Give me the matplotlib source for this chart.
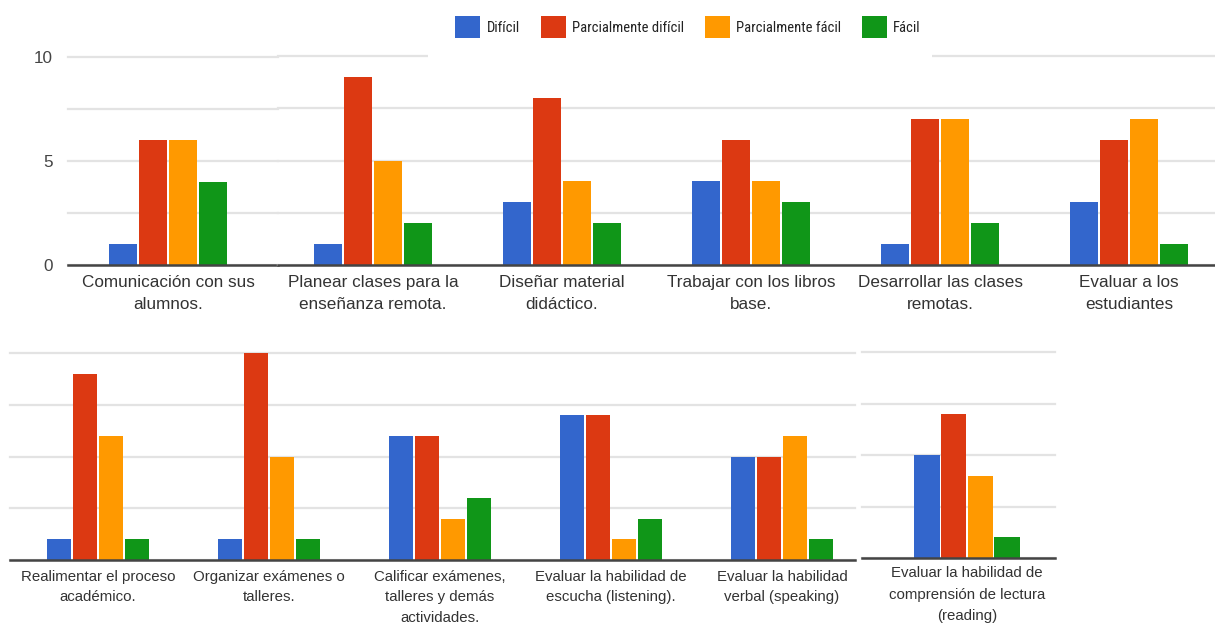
import matplotlib
matplotlib.use('Agg')
import matplotlib.pyplot as plt
from matplotlib.patches import Patch, Rectangle
from matplotlib.font_manager import FontProperties, fontManager
from matplotlib.textpath import TextPath
import numpy as np

W, H = 1215, 626

series = ['Difícil', 'Parcialmente difícil', 'Parcialmente fácil', 'Fácil']
colors = ['#3366cc', '#dc3912', '#ff9900', '#109618']

# first row
top_a_labels = ['Comunicación con sus\nalumnos.']
top_a_values = [[1], [6], [6], [4]]

top_b_labels = ['Planear clases para la\nenseñanza remota.',
                'Diseñar material\ndidáctico.',
                'Trabajar con los libros\nbase.',
                'Desarrollar las clases\nremotas.',
                'Evaluar a los\nestudiantes']
top_b_values = [[1, 3, 4, 1, 3],
                [9, 8, 6, 7, 6],
                [5, 4, 4, 7, 7],
                [2, 2, 3, 2, 1]]

# second row
bot_a_labels = ['Realimentar el proceso\nacadémico.',
                'Organizar exámenes o\ntalleres.',
                'Calificar exámenes,\ntalleres y demás\nactividades.',
                'Evaluar la habilidad de\nescucha (listening).',
                'Evaluar la habilidad\nverbal (speaking)']
bot_a_values = [[1, 1, 6, 7, 5],
                [9, 10, 6, 7, 5],
                [6, 5, 2, 1, 6],
                [1, 1, 3, 2, 1]]

bot_b_labels = ['Evaluar la habilidad de\ncomprensión de lectura\n(reading)']
bot_b_values = [[5], [7], [4], [1]]

yticks = [0, 2.5, 5, 7.5, 10]

names = {f.name for f in fontManager.ttflist}
base_font = 'Liberation Sans' if 'Liberation Sans' in names else 'DejaVu Sans'
plt.rcParams['font.family'] = [base_font, 'DejaVu Sans']


def pick_narrow():
    # a condensed face for the legend, if there is one
    for nm in ['Liberation Sans Narrow', 'Roboto Condensed', 'Open Sans Condensed']:
        if nm in names:
            return FontProperties(family=nm)
    rank = {'condensed': 0, 'semi-condensed': 1, 'extra-condensed': 2}
    cands = []
    for f in fontManager.ttflist:
        st = f.stretch if isinstance(f.stretch, str) else ''
        narrow = st in rank or 'Condensed' in f.name or 'Narrow' in f.name
        if narrow and f.style == 'normal' and f.weight in (400, 'normal', 'regular'):
            cands.append((rank.get(st, 0), f.fname))
    if cands:
        cands.sort()
        return FontProperties(fname=cands[0][1])
    return FontProperties(family=base_font)


legend_fp = pick_narrow()
probe = TextPath((0, 0), 'Parcialmente difícil', size=10, prop=legend_fp)
legend_size = 10 * 110 / (probe.get_extents().width * 100 / 72)
legend_size = min(legend_size, 15)
legend_fp.set_size(legend_size)

fig = plt.figure(figsize=(W / 100, H / 100), dpi=100)


def panel(left, right, y0, y10, c0, step, labels, values, pitch, width,
          show_y=False, lab_size=12.3, lab_pad=7, lab_space=1.6):
    ax = fig.add_axes([left / W, 1 - y0 / H, (right - left) / W, (y0 - y10) / H])
    n = len(labels)
    x = np.arange(n)
    for k, (vals, col) in enumerate(zip(values, colors)):
        ax.bar(x + (k - 1.5) * pitch, vals, width=width, color=col, zorder=2)
    ax.set_xlim((left - c0) / step, (right - c0) / step)
    ax.set_ylim(0, 10)
    ax.set_yticks(yticks)
    if show_y:
        ax.set_yticklabels(['0', '', '5', '', '10'])
    else:
        ax.set_yticklabels([])
    ax.set_xticks(x)
    ax.set_xticklabels(labels, fontsize=lab_size, color='#333333', linespacing=lab_space)
    ax.tick_params(axis='both', length=0)
    ax.tick_params(axis='y', pad=11, labelsize=12.3, labelcolor='#444444')
    ax.tick_params(axis='x', pad=lab_pad)
    for s in ax.spines.values():
        s.set_visible(False)
    ax.grid(axis='y', color='#e3e3e3', lw=1.6, zorder=0)
    ax.grid(axis='x', visible=False)
    for gl in ax.get_ygridlines():
        gl.set_clip_on(False)
    ax.axhline(0, color='#444444', lw=1.8, zorder=3, clip_on=False)
    ax.patch.set_alpha(0)
    return ax


panel(68, 278, 265, 57, 168, 189, top_a_labels, top_a_values, 0.159, 0.152, show_y=True)
panel(278, 1215, 265, 56, 373, 189, top_b_labels, top_b_values, 0.159, 0.152)
panel(10, 855, 560, 353, 98, 171, bot_a_labels, bot_a_values, 0.152, 0.146,
      lab_size=10.8, lab_pad=7, lab_space=1.6)
panel(862, 1055, 558, 352, 967, 171, bot_b_labels, bot_b_values, 0.157, 0.150,
      lab_size=10.8, lab_pad=6, lab_space=1.66)

# white strip behind the legend hides the top gridline there
fig.add_artist(Rectangle((428 / W, 1 - 62 / H), (932 - 428) / W, 62 / H,
                         transform=fig.transFigure, facecolor='white',
                         edgecolor='none', zorder=5))

fs_px = legend_size * 100 / 72
handles = [Patch(facecolor=c, edgecolor='none') for c in colors]
leg = fig.legend(handles, series, loc='center', bbox_to_anchor=(688 / W, 1 - 27 / H),
                 ncol=4, frameon=False, handlelength=25 / fs_px, handleheight=27 / fs_px,
                 handletextpad=6 / fs_px, columnspacing=21 / fs_px, prop=legend_fp)
leg.set_zorder(6)
for t in leg.get_texts():
    t.set_color('#222222')

fig.savefig('out.png', dpi=100, facecolor='white')
